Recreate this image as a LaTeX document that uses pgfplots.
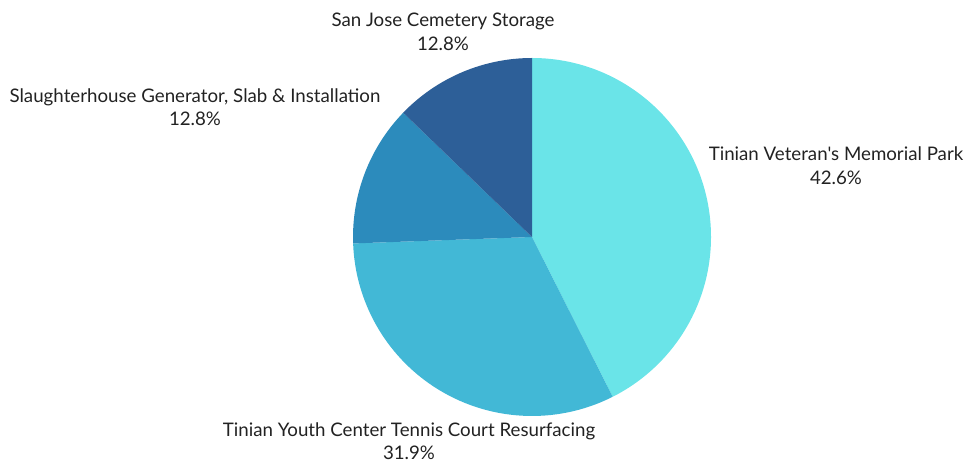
\documentclass[border=0pt]{standalone}
\usepackage{pgfplots}
\usepackage{pgfplotstable}
\pgfplotsset{compat=1.18}
\usepackage{fontspec}
\setmainfont{Lato}[Ligatures=TeXOff]
\definecolor{c0}{HTML}{6AE4E8}
\definecolor{c1}{HTML}{42B8D6}
\definecolor{c2}{HTML}{2C8BBC}
\definecolor{c3}{HTML}{2D5F98}
\definecolor{txt}{HTML}{222222}
\newcommand\lbl[1]{\ifcase#1 Tinian Veteran's Memorial Park\or Tinian Youth Center Tennis Court Resurfacing\or Slaughterhouse Generator, Slab \& Installation\or San Jose Cemetery Storage\fi}
% x = label centre, y = baseline of the name line (from bottom)
\pgfplotstableread[col sep=comma]{
value,x,y
42.6,836,302
31.9,409,27
12.8,195,360.5
12.8,443,436
}\data
\begin{document}
\begin{tikzpicture}
\begin{axis}[
  at={(0,0)}, anchor=south west,
  scale only axis, width=979bp, height=463bp,
  xmin=0, xmax=979, ymin=0, ymax=463,
  hide axis, clip=false,
]
\pgfplotstablegetrowsof{\data}
\pgfmathtruncatemacro\N{\pgfplotsretval-1}
\def\total{0}
\pgfplotsforeachungrouped \i in {0,...,\N}{%
  \pgfplotstablegetelem{\i}{value}\of\data
  \pgfmathsetmacro\total{\total+\pgfplotsretval}%
}
\def\cum{90}
\pgfplotsforeachungrouped \i in {0,...,\N}{%
  \pgfplotstablegetelem{\i}{value}\of\data
  \let\v\pgfplotsretval
  \pgfmathsetmacro\endang{\cum-360*\v/\total}%
  \edef\temp{\noexpand\fill[c\i] (axis cs:532,226) -- ++(\cum:179bp) arc[start angle=\cum, end angle=\endang, radius=179bp] -- cycle;}%
  \temp
  \pgfplotstablegetelem{\i}{x}\of\data \let\lx\pgfplotsretval
  \pgfplotstablegetelem{\i}{y}\of\data \let\ly\pgfplotsretval
  \pgfmathsetmacro\lyb{\ly-23.5}%
  \edef\temp{\noexpand\node[font=\noexpand\fontsize{18.7bp}{22bp}\noexpand\selectfont, text=txt, anchor=base, inner sep=0pt] at (axis cs:\lx,\ly) {\noexpand\lbl{\i}};
    \noexpand\node[font=\noexpand\fontsize{18.7bp}{22bp}\noexpand\selectfont, text=txt, anchor=base, inner sep=0pt] at (axis cs:\lx,\lyb) {\v\noexpand\%};}%
  \temp
  \let\cum\endang
}
\end{axis}
\pgfresetboundingbox
\path (0,0) rectangle (979bp,463bp);
\end{tikzpicture}
\end{document}
